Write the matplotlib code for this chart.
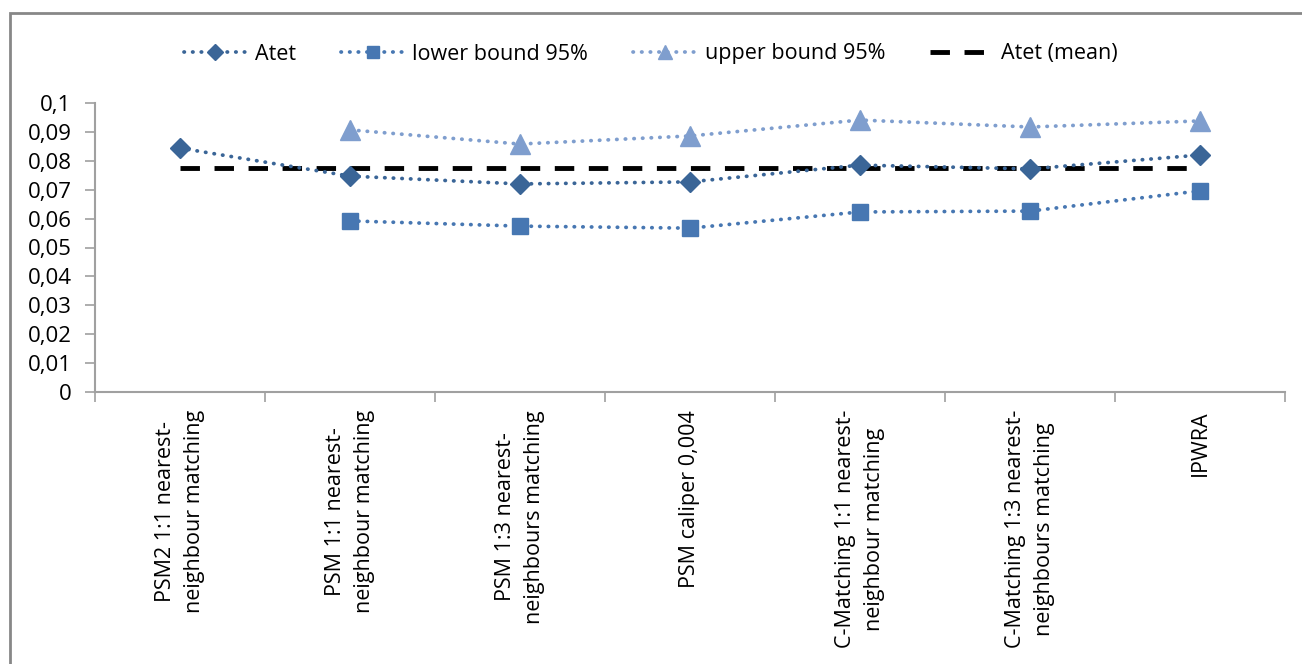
import numpy as np
import matplotlib.pyplot as plt
from matplotlib.patches import Rectangle
from matplotlib.ticker import FixedLocator, FuncFormatter

categories = ['PSM2 1:1 nearest-\nneighbour matching',
              'PSM 1:1 nearest-\nneighbour matching',
              'PSM 1:3 nearest-\nneighbours matching',
              'PSM caliper 0,004',
              'C-Matching 1:1 nearest-\nneighbour matching',
              'C-Matching 1:3 nearest-\nneighbours matching',
              'IPWRA']
atet = [0.0844, 0.0747, 0.0720, 0.0727, 0.0785, 0.0772, 0.0820]
lower = [np.nan, 0.0592, 0.0574, 0.0567, 0.0623, 0.0626, 0.0696]
upper = [np.nan, 0.0907, 0.0858, 0.0886, 0.0941, 0.0917, 0.0938]
atet_mean = 0.0775
yticks = [0, 0.01, 0.02, 0.03, 0.04, 0.05, 0.06, 0.07, 0.08, 0.09, 0.1]

plt.rcParams['font.family'] = ['Open Sans', 'DejaVu Sans']

fig = plt.figure(figsize=(13.02, 6.64), dpi=100)
fig.patches.append(Rectangle((10 / 1302, -0.1), 1.2, 1 - 13 / 664 + 0.1,
                             transform=fig.transFigure, fill=False,
                             edgecolor='#878787', linewidth=2, zorder=0))
ax = fig.add_axes([95 / 1302, 1 - 392 / 664, 1190 / 1302, 289 / 664])

x = np.arange(len(categories))
dots = (0, (0.1, 2.2))
ax.plot(x, atet, color='#3A6597', linestyle=dots, linewidth=2.7,
        dash_capstyle='round', marker='D', markersize=10.5, label='Atet', zorder=4)
ax.plot(x, lower, color='#4777B2', linestyle=dots, linewidth=2.7,
        dash_capstyle='round', marker='s', markersize=12, label='lower bound 95%', zorder=3)
ax.plot(x, upper, color='#7F9ECE', linestyle=dots, linewidth=2.7,
        dash_capstyle='round', marker='^', markersize=14, label='upper bound 95%', zorder=3)
ax.plot(x, [atet_mean] * len(x), color='black', linestyle=(0, (4, 3)),
        linewidth=3.5, label='Atet (mean)', zorder=2)

ax.set_xlim(-0.5, len(categories) - 0.5)
ax.set_ylim(0, 0.1)
ax.yaxis.set_major_locator(FixedLocator(yticks))
ax.yaxis.set_major_formatter(FuncFormatter(lambda v, p: ('%g' % round(v, 3)).replace('.', ',')))
ax.set_xticks(x)
ax.set_xticklabels(categories, rotation=90, ha='center', va='top',
                   multialignment='center', fontsize=15.5, linespacing=1.45)
ax.tick_params(axis='x', length=0, pad=13)
ax.set_xticks(np.arange(len(categories) + 1) - 0.5, minor=True)
ax.tick_params(axis='x', which='minor', length=7, color='#a0a0a0', width=1.2)
ax.tick_params(axis='y', length=7, color='#a0a0a0', width=1.2, labelsize=16, pad=10)

for s in ['top', 'right']:
    ax.spines[s].set_visible(False)
for s in ['left', 'bottom']:
    ax.spines[s].set_color('#a0a0a0')
    ax.spines[s].set_linewidth(1.5)

fig.legend(loc='center', bbox_to_anchor=(0.5, 1 - 54 / 664), ncol=4, frameon=False,
           fontsize=15.5, handlelength=2.9, columnspacing=2.1, handletextpad=0.4,
           markerscale=0.75)

fig.savefig('out.png', dpi=100)
